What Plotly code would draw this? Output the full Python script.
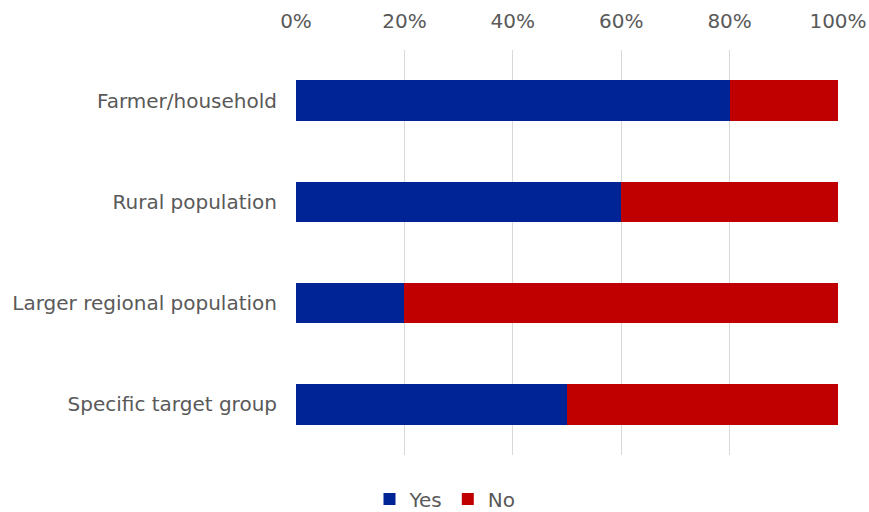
import plotly.graph_objects as go

categories = ["Farmer/household", "Rural population", "Larger regional population", "Specific target group"]
yes_share = [0.80, 0.60, 0.20, 0.50]
no_share = [0.20, 0.40, 0.80, 0.50]
tick_values = [0, 0.2, 0.4, 0.6, 0.8, 1.0]
tick_labels = ["0%", "20%", "40%", "60%", "80%", "100%"]

font_family = "DejaVu Sans"
text_color = "#595959"
font_size = 20

fig = go.Figure()
fig.add_trace(go.Bar(y=categories, x=yes_share, name="Yes", orientation="h",
                     marker=dict(color="#002395", line=dict(width=0)), width=0.4))
fig.add_trace(go.Bar(y=categories, x=no_share, name="No", orientation="h",
                     marker=dict(color="#C00000", line=dict(width=0)), width=0.4))

fig.update_layout(
    barmode="stack",
    width=869, height=512,
    margin=dict(l=296, r=31, t=50, b=57, autoexpand=False),
    plot_bgcolor="white", paper_bgcolor="white",
    font=dict(family=font_family, size=font_size, color=text_color),
    showlegend=True,
    legend=dict(orientation="h", x=445 / 869, xanchor="center", xref="container",
                yref="container", y=1 - 499 / 512, yanchor="middle",
                font=dict(family=font_family, size=font_size, color=text_color),
                itemwidth=30, traceorder="normal"),
)
fig.update_xaxes(side="top", range=[0, 1], tickvals=tick_values, ticktext=tick_labels,
                 showgrid=True, gridcolor="#D9D9D9", gridwidth=1.3, zeroline=False,
                 showline=False, ticks="", ticklabelstandoff=17, automargin=False,
                 tickfont=dict(family=font_family, size=font_size, color=text_color))
fig.update_yaxes(autorange=False, range=[3.5, -0.5], categoryorder="array",
                 categoryarray=categories, showgrid=False, showline=False,
                 ticks="", ticklabelstandoff=18, automargin=False,
                 tickfont=dict(family=font_family, size=font_size, color=text_color))

fig.write_html("out.html")
